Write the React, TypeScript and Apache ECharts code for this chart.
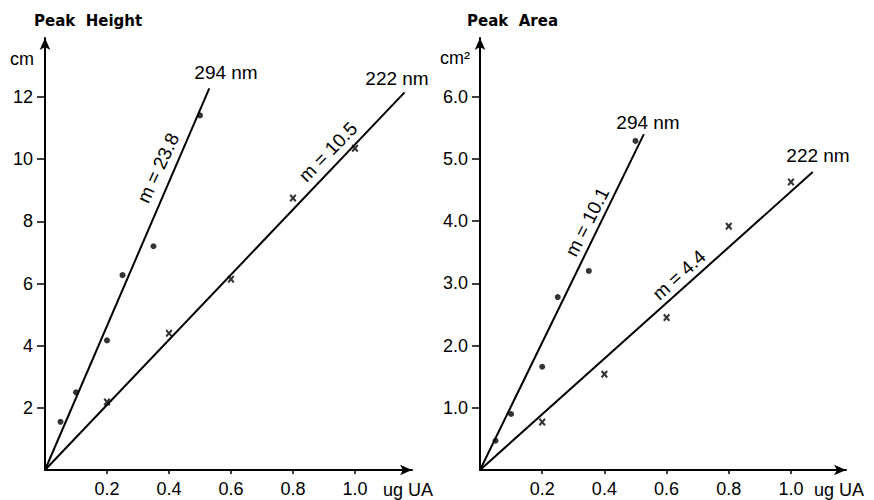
import React, { useEffect, useRef } from 'react';
import * as echarts from 'echarts';

// ---- Data ----
const xTickValues = [0.2, 0.4, 0.6, 0.8, 1.0];
const heightTickValues = [2, 4, 6, 8, 10, 12];
const areaTickValues = [1, 2, 3, 4, 5, 6];

// Peak Height (cm)
const height294X = [0.05, 0.1, 0.2, 0.25, 0.35, 0.5];
const height294Y = [1.55, 2.5, 4.17, 6.27, 7.2, 11.41];
const height222X = [0.2, 0.4, 0.6, 0.8, 1.0];
const height222Y = [2.19, 4.4, 6.14, 8.75, 10.35];
const heightFit294 = [[0, 0], [0.53, 12.28]];
const heightFit222 = [[0, 0], [1.16, 12.15]];

// Peak Area (cm^2)
const area294X = [0.05, 0.1, 0.2, 0.25, 0.35, 0.5];
const area294Y = [0.47, 0.9, 1.66, 2.78, 3.2, 5.29];
const area222X = [0.2, 0.4, 0.6, 0.8, 1.0];
const area222Y = [0.77, 1.54, 2.45, 3.92, 4.63];
const areaFit294 = [[0, 0], [0.527, 5.4]];
const areaFit222 = [[0, 0], [1.07, 4.79]];

const FONT = '"Liberation Sans", Arial, sans-serif';
const TITLE_FONT = '"DejaVu Sans", sans-serif';
const CROSS = 'path://M0,2L2,0L5,3L8,0L10,2L7,5L10,8L8,10L5,7L2,10L0,8L3,5Z';

const zip = (xs: number[], ys: number[]) => xs.map((x, i) => [x, ys[i]]);

function xAxis(gridIndex: number, max: number) {
  return {
    type: 'value',
    gridIndex,
    min: 0,
    max,
    splitLine: { show: false },
    axisLine: {
      show: true,
      lineStyle: { color: '#000', width: 2 },
      symbol: ['none', 'arrow'],
      symbolSize: [8, 12],
    },
    axisTick: {
      show: true,
      inside: false,
      length: 4,
      lineStyle: { color: '#000', width: 1.5 },
      customValues: xTickValues,
    },
    axisLabel: {
      show: true,
      margin: 10,
      color: '#000',
      fontSize: 18,
      fontFamily: FONT,
      customValues: xTickValues,
      formatter: (v: number) => v.toFixed(1),
    },
  };
}

function yAxis(gridIndex: number, max: number, ticks: number[], decimals: number) {
  return {
    type: 'value',
    gridIndex,
    min: 0,
    max,
    splitLine: { show: false },
    axisLine: {
      show: true,
      lineStyle: { color: '#000', width: 2 },
      symbol: ['none', 'arrow'],
      symbolSize: [8, 12],
    },
    axisTick: {
      show: true,
      inside: false,
      length: 8,
      lineStyle: { color: '#000', width: 1.5 },
      customValues: ticks,
    },
    axisLabel: {
      show: true,
      margin: 12,
      color: '#000',
      fontSize: 18,
      fontFamily: FONT,
      customValues: ticks,
      formatter: (v: number) => v.toFixed(decimals),
    },
  };
}

function lineSeries(data: number[][], idx: number) {
  return {
    type: 'line',
    xAxisIndex: idx,
    yAxisIndex: idx,
    data,
    showSymbol: false,
    symbol: 'none',
    lineStyle: { color: '#000', width: 2 },
    silent: true,
  };
}

function dotSeries(data: number[][], idx: number) {
  return {
    type: 'scatter',
    xAxisIndex: idx,
    yAxisIndex: idx,
    data,
    symbol: 'circle',
    symbolSize: 6,
    itemStyle: { color: '#000' },
  };
}

function crossSeries(data: number[][], idx: number) {
  return {
    type: 'scatter',
    xAxisIndex: idx,
    yAxisIndex: idx,
    data,
    symbol: CROSS,
    symbolSize: [7, 8],
    itemStyle: { color: '#000' },
  };
}

function txt(text: string, x: number, y: number, opts: any = {}) {
  const { rotationDeg, fontSize, font, weight, align } = opts;
  return {
    type: 'text',
    x,
    y,
    rotation: rotationDeg ? (rotationDeg * Math.PI) / 180 : 0,
    style: {
      text,
      fill: '#000',
      fontSize: fontSize || 19,
      fontFamily: font || FONT,
      fontWeight: weight || 'normal',
      textAlign: align || 'center',
      textVerticalAlign: 'middle',
    },
  };
}

export default function App() {
  const ref = useRef<HTMLDivElement>(null);

  useEffect(() => {
    if (!ref.current) return;
    const chart = echarts.init(ref.current, undefined, { renderer: 'svg' });
    chart.setOption({
      animation: false,
      backgroundColor: '#fff',
      grid: [
        { left: 45, top: 38, width: 367, height: 432 },
        { left: 480, top: 38, width: 366, height: 432 },
      ],
      xAxis: [xAxis(0, 1.184), xAxis(1, 1.177)],
      yAxis: [yAxis(0, 13.9, heightTickValues, 0), yAxis(1, 6.945, areaTickValues, 1)],
      series: [
        lineSeries(heightFit294, 0),
        lineSeries(heightFit222, 0),
        dotSeries(zip(height294X, height294Y), 0),
        crossSeries(zip(height222X, height222Y), 0),
        lineSeries(areaFit294, 1),
        lineSeries(areaFit222, 1),
        dotSeries(zip(area294X, area294Y), 1),
        crossSeries(zip(area222X, area222Y), 1),
      ],
      graphic: [
        txt('Peak  Height', 34, 21, { fontSize: 15, font: TITLE_FONT, weight: 'bold', align: 'left' }),
        txt('cm', 10, 59, { align: 'left', fontSize: 18 }),
        txt('294 nm', 226, 72),
        txt('222 nm', 397, 78),
        txt('m = 23.8', 158, 168, { rotationDeg: 65 }),
        txt('m = 10.5', 328, 152, { rotationDeg: 46 }),
        txt('ug UA', 383, 490, { align: 'left', fontSize: 18 }),

        txt('Peak  Area', 467, 21, { fontSize: 15, font: TITLE_FONT, weight: 'bold', align: 'left' }),
        txt('cm²', 440, 58, { align: 'left', fontSize: 18 }),
        txt('294 nm', 648, 122),
        txt('222 nm', 818, 155),
        txt('m = 10.1', 587, 222, { rotationDeg: 63 }),
        txt('m = 4.4', 679, 275, { rotationDeg: 42 }),
        txt('ug UA', 814, 490, { align: 'left', fontSize: 18 }),
      ],
    });
    return () => chart.dispose();
  }, []);

  return (
    <div
      ref={ref}
      style={{ position: 'fixed', left: 0, top: 0, width: 874, height: 500, background: '#fff' }}
    />
  );
}
